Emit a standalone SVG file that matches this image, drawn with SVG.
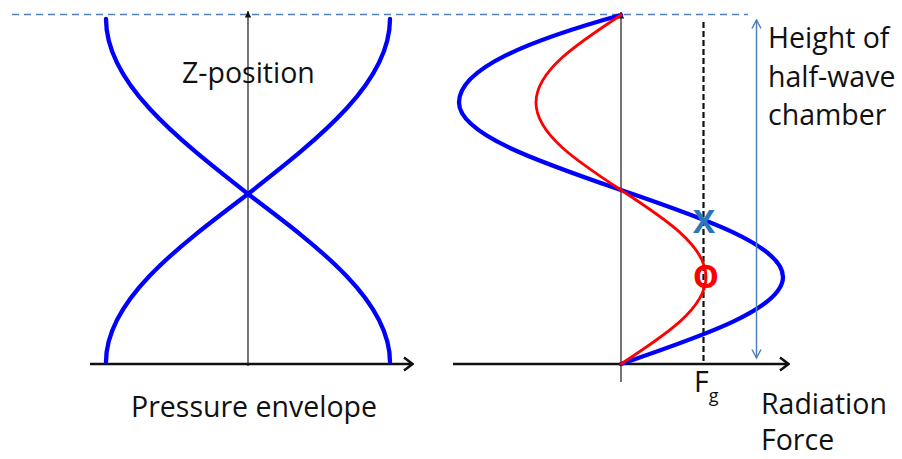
<svg xmlns="http://www.w3.org/2000/svg" width="902" height="459" viewBox="0 0 902 459">
  <defs>
    <marker id="axisHead" viewBox="0 0 10 10" refX="9" refY="5" markerWidth="8" markerHeight="8" markerUnits="userSpaceOnUse" orient="auto">
      <path d="M1,1 L9,5 L1,9 Z" fill="#111"/>
    </marker>
    <marker id="chev" viewBox="0 0 12 16" refX="11" refY="8" markerWidth="12" markerHeight="16" markerUnits="userSpaceOnUse" orient="auto">
      <path d="M2,1.5 L10.5,8 L2,14.5" fill="none" stroke="#111" stroke-width="2.5" stroke-linejoin="miter"/>
    </marker>
    <marker id="thinHead" viewBox="0 0 12 12" refX="10.5" refY="6" markerWidth="12" markerHeight="12" markerUnits="userSpaceOnUse" orient="auto-start-reverse">
      <path d="M2,1.5 L10.5,6 L2,10.5" fill="none" stroke="#4f81bd" stroke-width="1.5"/>
    </marker>
  </defs>
  <style>
    text { font-family: "Open Sans", "Liberation Sans", sans-serif; fill: #111; }
    .lbl { font-size: 28.5px; }
    .mark { font-size: 33px; font-weight: bold; text-anchor: middle; }
    .vaxis { stroke: #3a3a3a; stroke-width: 1.4; fill: none; }
    .haxis { stroke: #111; stroke-width: 2.5; fill: none; }
    .bluec { stroke: #0000ff; stroke-width: 4.3; fill: none; stroke-linecap: round; }
    .redc { stroke: #ff0000; stroke-width: 2.8; fill: none; stroke-linecap: round; }
  </style>

  <g id="top-line">
    <line x1="12" y1="14.5" x2="748" y2="14.5" stroke="#4f81bd" stroke-width="1.4" stroke-dasharray="7,5"/>
  </g>

  <g id="left-panel">
    <line class="vaxis" x1="248" y1="366" x2="248" y2="11" marker-end="url(#axisHead)"/>
    <line class="haxis" x1="90" y1="364" x2="413" y2="364" marker-end="url(#chev)"/>
    <path class="bluec" d="M106,19 C106,82.3 175.25,136.9 248,194 C320.75,248.8 390,301.2 390,362"/>
    <path class="bluec" d="M390,19 C390,82.3 320.75,136.9 248,194 C175.25,248.8 106,301.2 106,362"/>
    <text class="lbl" x="182" y="83">Z-position</text>
    <text class="lbl" x="131" y="417">Pressure envelope</text>
  </g>

  <g id="right-panel">
    <line class="vaxis" x1="621" y1="382" x2="621" y2="12" marker-end="url(#axisHead)"/>
    <line class="haxis" x1="453" y1="364" x2="789" y2="364" marker-end="url(#chev)"/>
    <line id="fg-line" x1="703.5" y1="22" x2="703.5" y2="364" stroke="#111" stroke-width="2.2" stroke-dasharray="6,3"/>
    <path id="blue-force" class="bluec" d="M621,15 C531,40 459,68 459,102.5 C459,134.17 538,161.46 621,190 C704,218.38 783,245.52 783,277 C783,308.48 704,335.62 621,364"/>
    <path id="red-force" class="redc" d="M621,15 C577.45,43.54 536,70.83 536,102.5 C536,134.17 577.45,161.46 621,190 C664.55,218.38 706,245.52 706,277 C706,308.48 664.55,335.62 621,364"/>
    <line id="height-arrow" x1="756.5" y1="358" x2="756.5" y2="20" stroke="#4f81bd" stroke-width="1.5" marker-start="url(#thinHead)" marker-end="url(#thinHead)"/>
    <text class="mark" x="704" y="233" style="fill:#2a76b8">X</text>
    <text class="mark" x="706" y="288" style="fill:#ff0000">O</text>
    <text class="lbl" x="694" y="392">F<tspan font-size="18" dy="10">g</tspan></text>
    <text class="lbl" x="768" y="48">Height of</text>
    <text class="lbl" x="768" y="87">half-wave</text>
    <text class="lbl" x="768" y="125">chamber</text>
    <text class="lbl" x="761" y="414">Radiation</text>
    <text class="lbl" x="761" y="450">Force</text>
  </g>
</svg>
